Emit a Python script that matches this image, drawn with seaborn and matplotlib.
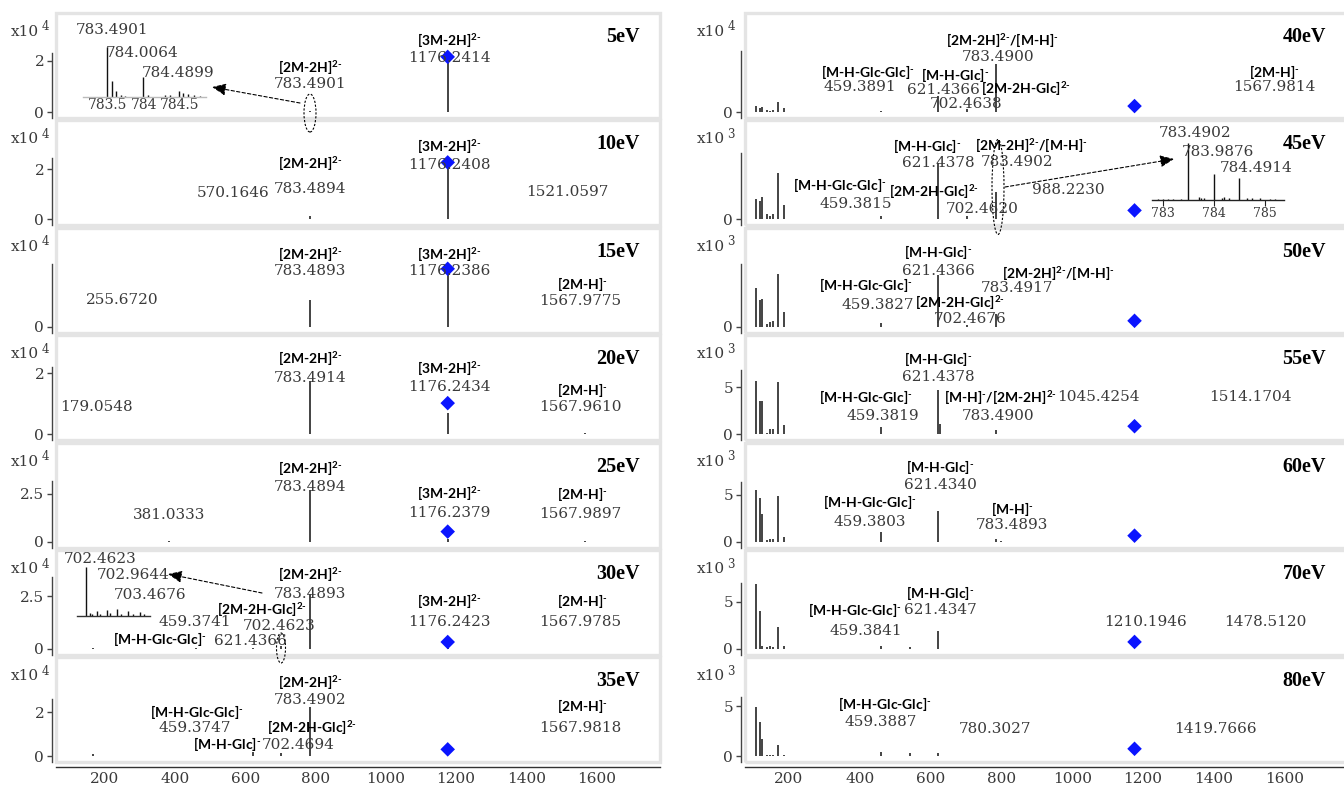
import matplotlib
matplotlib.use("Agg")
import matplotlib.pyplot as plt
import seaborn as sns
from matplotlib.patches import Rectangle, Ellipse, FancyArrowPatch

# ---------------- data ----------------
titles_left = ["5eV", "10eV", "15eV", "20eV", "25eV", "30eV", "35eV"]
titles_right = ["40eV", "45eV", "50eV", "55eV", "60eV", "70eV", "80eV"]
exp_left = [4, 4, 4, 4, 4, 4, 4]
exp_right = [4, 3, 3, 3, 3, 3, 3]

diamond_mz = 1176.24
diamond_left = [2.16, 2.28, 2.9, 1.02, 0.52, 0.33, 0.32]
diamond_right = [0.17, 0.6, 0.4, 0.85, 0.63, 0.75, 0.76]

mz_5 = [783.49, 1176.24]
int_5 = [0.04, 2.16]
mz_10 = [783.49, 1176.24]
int_10 = [0.15, 2.28]
mz_15 = [783.49, 1176.24]
int_15 = [1.35, 2.9]
mz_20 = [783.49, 1176.24, 1567.96]
int_20 = [1.76, 0.69, 0.03]
mz_25 = [381.03, 783.49, 1176.24, 1567.99]
int_25 = [0.05, 2.71, 0.15, 0.05]
mz_30 = [165, 459.37, 621.44, 702.46, 783.49, 1176.24]
int_30 = [0.05, 0.05, 0.06, 0.12, 2.6, 0.04]
mz_35 = [120, 165, 459.37, 621.44, 660, 702.41, 783.49]
int_35 = [0.04, 0.12, 0.04, 0.2, 0.03, 0.15, 2.23]

low_mz = [107, 119, 125, 137, 145, 154, 170, 186]
mz_40 = low_mz + [459.39, 621.44, 702.45, 783.49]
int_40 = [0.17, 0.11, 0.14, 0.06, 0.03, 0.06, 0.30, 0.11] + [0.03, 0.45, 0.08, 1.37]
mz_45 = low_mz + [459.38, 621.44, 702.46, 783.49, 988.22]
int_45 = [1.33, 1.2, 1.47, 0.33, 0.2, 0.33, 3.07, 0.93] + [0.2, 3.73, 0.2, 1.8, 0.05]
mz_50 = low_mz + [459.38, 621.44, 702.47, 783.49]
int_50 = [2.6, 1.8, 1.87, 0.2, 0.33, 0.4, 3.53, 1.0] + [0.27, 3.47, 0.13, 0.87]
mz_55 = low_mz + [459.38, 600, 621.44, 627, 783.49, 1514.17]
int_55 = [5.7, 3.5, 3.5, 0.18, 0.53, 0.53, 5.5, 1.0] + [0.77, 0.07, 4.65, 1.06, 0.46, 0.07]
mz_60 = low_mz + [459.38, 621.43, 783.49, 800]
int_60 = [5.5, 4.6, 2.9, 0.2, 0.3, 0.3, 4.8, 0.5] + [1.0, 3.3, 0.25, 0.1]
mz_70 = low_mz + [459.38, 541, 621.43]
int_70 = [6.9, 4.0, 0.3, 0.2, 0.3, 0.2, 2.3, 0.3] + [0.3, 0.25, 1.9]
mz_80 = low_mz + [380, 459.39, 541, 621.44, 1419.77]
int_80 = [4.94, 3.4, 1.7, 0.15, 0.15, 0.1, 1.1, 0.1] + [0.05, 0.45, 0.3, 0.3, 0.05]

yticks_left = [[0, 2], [0, 2], [0], [0, 2], [0, 2.5], [0, 2.5], [0, 2]]
yticks_right = [[0], [0], [0], [0, 5], [0, 5], [0, 5], [0, 5]]
xticks_mz = [200, 400, 600, 800, 1000, 1200, 1400, 1600]

# isotope insets
inset5_mz = [783.49, 783.56, 783.62, 783.68, 783.74, 783.99, 784.06, 784.30, 784.36,
             784.49, 784.55, 784.62, 784.70, 784.78]
inset5_int = [1.0, 0.32, 0.12, 0.05, 0.03, 0.40, 0.05, 0.04, 0.04, 0.12, 0.08, 0.06, 0.04, 0.03]
inset30_mz = [702.46, 702.55, 702.62, 702.72, 702.80, 702.96, 703.05, 703.20, 703.30,
              703.47, 703.60, 703.75, 703.85]
inset30_int = [1.0, 0.06, 0.04, 0.10, 0.04, 0.12, 0.06, 0.14, 0.05, 0.10, 0.04, 0.08, 0.04]
inset45_mz = [782.90, 783.00, 783.10, 783.20, 783.35, 783.49, 783.70, 783.75, 783.80, 783.99,
              784.15, 784.20, 784.30, 784.49, 784.65, 784.75, 784.90, 785.10, 785.20]
inset45_int = [0.02, 0.02, 0.02, 0.02, 0.02, 1.0, 0.05, 0.04, 0.03, 0.46, 0.04, 0.05, 0.04,
               0.39, 0.04, 0.03, 0.03, 0.02, 0.02]

# ion names (superscript charges)
C2 = r"$^{2\text{-}}$"
C1 = r"$^{\text{-}}$"
ION_2M2H = "[2M-2H]" + C2
ION_3M2H = "[3M-2H]" + C2
ION_2MH = "[2M-H]" + C1
ION_MH = "[M-H]" + C1
ION_GLC = "[M-H-Glc]" + C1
ION_GLCGLC = "[M-H-Glc-Glc]" + C1
ION_2M2HGLC = "[2M-2H-Glc]" + C2
ION_DIMER_MH = ION_2M2H + "/" + ION_MH
ION_MH_DIMER = ION_MH + "/" + ION_2M2H

# ---------------- layout ----------------
W, H = 1344, 786
Z0, DZ = 112.0, 107.4
FTOP, FBOT = 99, 6
COLS = {"left": (56, 660, 60.4, 1781.0), "right": (745, 1350, 75.7, 1785.0)}
ytop_left = [3.88, 3.96, 4.95, 3.25, 5.16, 4.67, 4.5]
ytop_right = [2.83, 6.6, 6.6, 10.53, 10.53, 10.53, 9.9]
spine_left = [2.3, 2.47, 3.15, 2.2, 3.18, 3.4, 2.62]
spine_right = [1.74, 4.4, 4.2, 6.8, 6.3, 7.0, 5.9]

ann_left = [
    [(ION_2M2H, 310, 45, "ion"), ("783.4901", 310, 28, "num"),
     (ION_3M2H, 449, 72, "ion"), ("1176.2414", 449, 54, "num")],
    [(ION_2M2H, 310, 56, "ion"), ("783.4894", 310, 30, "num"), ("570.1646", 233, 26, "num"),
     (ION_3M2H, 449, 73, "ion"), ("1176.2408", 449, 54, "num"), ("1521.0597", 567, 27, "num")],
    [(ION_2M2H, 310, 73, "ion"), ("783.4893", 310, 56, "num"),
     (ION_3M2H, 449, 73, "ion"), ("1176.2386", 449, 56, "num"),
     (ION_2MH, 582, 43, "ion"), ("1567.9775", 580, 26, "num"), ("255.6720", 122, 27, "num")],
    [(ION_2M2H, 310, 76, "ion"), ("783.4914", 310, 56, "num"),
     (ION_3M2H, 449, 66, "ion"), ("1176.2434", 449, 47, "num"),
     (ION_2MH, 582, 44, "ion"), ("1567.9610", 580, 27, "num"), ("179.0548", 96, 27, "num")],
    [(ION_2M2H, 310, 74, "ion"), ("783.4894", 310, 55, "num"),
     (ION_3M2H, 449, 49, "ion"), ("1176.2379", 449, 29, "num"),
     (ION_2MH, 582, 48, "ion"), ("1567.9897", 580, 28, "num"), ("381.0333", 169, 27, "num")],
    [(ION_2M2H, 310, 75, "ion"), ("783.4893", 310, 55, "num"),
     (ION_2M2HGLC, 262, 40, "ion"), ("702.4623", 279, 23, "num"), ("459.3741", 195, 27, "num"),
     (ION_GLCGLC, 160, 10, "ion"), ("621.4366", 250, 8, "num"),
     (ION_3M2H, 449, 48, "ion"), ("1176.2423", 449, 27, "num"),
     (ION_2MH, 582, 48, "ion"), ("1567.9785", 580, 27, "num")],
    [(ION_2M2H, 310, 74, "ion"), ("783.4902", 310, 56, "num"),
     (ION_GLCGLC, 197, 44, "ion"), ("459.3747", 195, 28, "num"),
     (ION_2M2HGLC, 312, 29, "ion"), ("702.4694", 298, 11, "num"),
     (ION_GLC, 227, 12, "ion"),
     (ION_2MH, 582, 50, "ion"), ("1567.9818", 580, 28, "num")],
]
ann_right = [
    [(ION_DIMER_MH, 1002, 72, "ion"), ("783.4900", 998, 55, "num"),
     (ION_GLCGLC, 868, 40, "ion"), ("459.3891", 860, 25, "num"),
     (ION_GLC, 955, 37, "ion"), ("621.4366", 943, 22, "num"),
     (ION_2M2HGLC, 1026, 24, "ion"), ("702.4638", 966, 8, "num"),
     (ION_2MH, 1274, 40, "ion"), ("1567.9814", 1274, 25, "num")],
    [(ION_GLC, 927, 73, "ion"), ("621.4378", 938, 56, "num"),
     (ION_DIMER_MH, 1031, 74, "ion"), ("783.4902", 1017, 57, "num"),
     (ION_GLCGLC, 840, 34, "ion"), ("459.3815", 856, 15, "num"),
     (ION_2M2HGLC, 934, 28, "ion"), ("702.4620", 982, 10, "num"),
     ("988.2230", 1068, 29, "num")],
    [(ION_GLC, 938, 75, "ion"), ("621.4366", 938, 56, "num"),
     (ION_DIMER_MH, 1058, 54, "ion"), ("783.4917", 1017, 39, "num"),
     (ION_GLCGLC, 866, 42, "ion"), ("459.3827", 878, 22, "num"),
     (ION_2M2HGLC, 960, 25, "ion"), ("702.4676", 970, 8, "num")],
    [(ION_GLC, 938, 75, "ion"), ("621.4378", 938, 57, "num"),
     (ION_GLCGLC, 866, 37, "ion"), ("459.3819", 883, 18, "num"),
     (ION_MH_DIMER, 1000, 37, "ion"), ("783.4900", 998, 18, "num"),
     ("1045.4254", 1098, 37, "num"), ("1514.1704", 1250, 37, "num")],
    [(ION_GLC, 940, 75, "ion"), ("621.4340", 940, 57, "num"),
     (ION_GLCGLC, 870, 40, "ion"), ("459.3803", 870, 20, "num"),
     (ION_MH, 1012, 33, "ion"), ("783.4893", 1012, 17, "num")],
    [(ION_GLC, 940, 56, "ion"), ("621.4347", 940, 39, "num"),
     (ION_GLCGLC, 855, 39, "ion"), ("459.3841", 866, 18, "num"),
     ("1210.1946", 1146, 27, "num"), ("1478.5120", 1265, 27, "num")],
    [(ION_GLCGLC, 885, 52, "ion"), ("459.3887", 881, 34, "num"),
     ("780.3027", 995, 27, "num"), ("1419.7666", 1215, 27, "num")],
]

mz_left = [mz_5, mz_10, mz_15, mz_20, mz_25, mz_30, mz_35]
int_left = [int_5, int_10, int_15, int_20, int_25, int_30, int_35]
mz_right = [mz_40, mz_45, mz_50, mz_55, mz_60, mz_70, mz_80]
int_right = [int_40, int_45, int_50, int_55, int_60, int_70, int_80]

# ---------------- style ----------------
sns.set_theme(style="white")
plt.rcParams["font.family"] = ["DejaVu Serif", "Liberation Serif"]
plt.rcParams["mathtext.fontset"] = "custom"
plt.rcParams["mathtext.rm"] = "Lato:bold"
plt.rcParams["mathtext.default"] = "regular"

SERIF = ["DejaVu Serif", "Liberation Serif"]
NUMFONT = dict(fontfamily=SERIF, fontsize=11, color="#3a3a3a")
IONFONT = dict(fontfamily=["Lato", "DejaVu Sans"], fontweight="bold", fontsize=10, color="black")

fig = plt.figure(figsize=(W / 100, H / 100), dpi=100)


def fx(x):
    return x / W


def fy(y):
    return 1 - y / H


def put(x, y, s, kind, **kw):
    style = dict(IONFONT if kind == "ion" else NUMFONT)
    style.update(kw)
    fig.text(fx(x), fy(y), s, ha=style.pop("ha", "center"), va=style.pop("va", "center"), **style)


def draw_panel(col, i, title, exp, mz, inten, dval, yticks, ytop, stop, anns, bottom):
    x0, x1, xmin, xmax = COLS[col]
    Z = Z0 + DZ * i
    ax = fig.add_axes([fx(x0), fy(Z + FBOT), (x1 - x0) / W, (FTOP + FBOT) / H])
    ax.set_facecolor("none")
    ax.vlines(mz, 0, inten, color="#111111", lw=1.1, zorder=3)
    sns.scatterplot(x=[diamond_mz], y=[dval], marker="D", s=55, color="#0a14ff",
                    edgecolor="none", ax=ax, legend=False, zorder=5)
    ylo = -ytop * FBOT / FTOP
    ax.set_xlim(xmin, xmax)
    ax.set_ylim(ylo, ytop)
    ax.add_patch(Rectangle((0, 0), 1, 1, transform=ax.transAxes, fill=False,
                           ec="#e4e4e4", lw=2.4, clip_on=False, zorder=0))
    for s in ["top", "right", "bottom"]:
        ax.spines[s].set_visible(False)
    sp = ax.spines["left"]
    sp.set_color("#444444")
    sp.set_linewidth(1.0)
    sp.set_position(("outward", 3))
    sp.set_bounds(ylo, stop)
    ax.set_yticks(yticks)
    ax.set_yticklabels([f"{t:g}" for t in yticks], fontfamily=SERIF)
    ax.tick_params(axis="y", direction="out", length=3.5, width=1, color="#444444",
                   labelsize=11, labelcolor="#3a3a3a", pad=2, left=True)
    if bottom:
        bs = ax.spines["bottom"]
        bs.set_visible(True)
        bs.set_color("#333333")
        bs.set_linewidth(1.0)
        bs.set_position(("outward", 3))
        ax.set_xticks(xticks_mz)
        ax.set_xticklabels([str(t) for t in xticks_mz], fontfamily=SERIF)
        ax.tick_params(axis="x", length=0, labelsize=11, labelcolor="#3a3a3a", pad=4, bottom=True)
    else:
        ax.set_xticks([])
    ax.set_xlabel("")
    ax.set_ylabel("")
    lx = 25 if col == "left" else 711
    put(lx, Z - 80, "x10", "num")
    put(lx + 20, Z - 85, str(exp), "num", fontsize=8.5)
    put(x1 - 20 if col == "left" else 1326, Z - 75, title, "num", ha="right",
        fontfamily=["Liberation Serif", "DejaVu Serif"], fontweight="bold",
        fontsize=14.5, color="black")
    for s, x, dy, kind in anns:
        put(x, Z - dy, s, kind)
    return ax


for i in range(7):
    draw_panel("left", i, titles_left[i], exp_left[i], mz_left[i], int_left[i], diamond_left[i],
               yticks_left[i], ytop_left[i], spine_left[i], ann_left[i], i == 6)
    draw_panel("right", i, titles_right[i], exp_right[i], mz_right[i], int_right[i], diamond_right[i],
               yticks_right[i], ytop_right[i], spine_right[i], ann_right[i], i == 6)


def draw_inset(x0, x1, ybase, ytp, mz, inten, xlim, ticks, labels, spcolor, ticklen, fs):
    ax = fig.add_axes([fx(x0), fy(ybase), (x1 - x0) / W, (ybase - ytp) / H])
    ax.patch.set_alpha(0)
    ax.vlines(mz, 0, inten, color="#111111", lw=1.0)
    ax.set_xlim(*xlim)
    ax.set_ylim(0, 1.0)
    for s in ["top", "right", "left"]:
        ax.spines[s].set_visible(False)
    ax.spines["bottom"].set_color(spcolor)
    ax.spines["bottom"].set_linewidth(1.0)
    ax.set_yticks([])
    ax.set_xticks(ticks)
    ax.set_xticklabels(labels, fontfamily=SERIF)
    ax.tick_params(axis="x", direction="out", length=ticklen, width=0.8, color=spcolor,
                   labelsize=fs, labelcolor="#3a3a3a", pad=1, bottom=True)
    return ax


# 5eV inset
draw_inset(83, 206, 97, 47, inset5_mz, inset5_int, (783.157, 784.865),
           [783.5, 784.0, 784.5], ["783.5", "784", "784.5"], "#bbbbbb", 0, 10)
put(112, 30, "783.4901", "num")
put(142, 53, "784.0064", "num")
put(178, 73, "784.4899", "num")
# 30eV inset
draw_inset(77, 150, 616, 567, inset30_mz, inset30_int, (702.25, 704.0), [], [], "#333333", 0, 10)
put(100, 559, "702.4623", "num")
put(133, 575, "702.9644", "num")
put(150, 595, "703.4676", "num")
# 45eV inset
draw_inset(1152, 1284, 200, 143, inset45_mz, inset45_int, (782.78, 785.37),
           [783, 784, 785], ["783", "784", "785"], "#222222", 4, 9)
put(1195, 133, "783.4902", "num")
put(1218, 152, "783.9876", "num")
put(1256, 168, "784.4914", "num")

# ellipses and arrows
for (cx, cy, w, h) in [(310, 113, 12, 38), (281, 648, 9, 30), (998, 187, 12, 95)]:
    fig.add_artist(Ellipse((fx(cx), fy(cy)), w / W, h / H, transform=fig.transFigure,
                           fill=False, ec="black", lw=0.8, ls=(0, (2, 1.5)), zorder=10))
for (xa, ya, xb, yb) in [(300, 103, 212, 87), (262, 593, 168, 574), (1005, 187, 1174, 159)]:
    fig.add_artist(FancyArrowPatch((fx(xa), fy(ya)), (fx(xb), fy(yb)), transform=fig.transFigure,
                                   arrowstyle="-|>,head_length=0.7,head_width=0.3",
                                   mutation_scale=12, lw=0.8, ls=(0, (3, 2)), color="black",
                                   shrinkA=0, shrinkB=0, zorder=10))

fig.savefig("out.png", dpi=100)
